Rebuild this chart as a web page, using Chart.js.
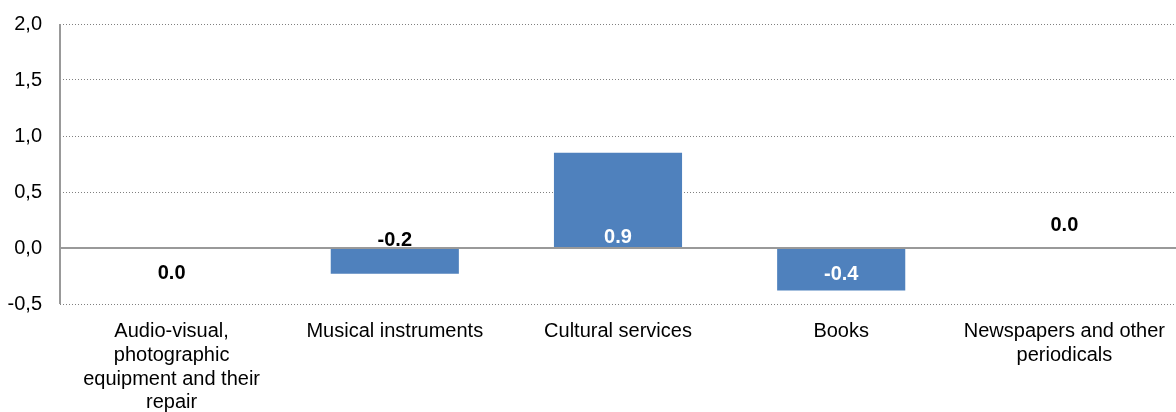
<!DOCTYPE html>
<html>
<head>
<meta charset="utf-8">
<script src="https://cdn.jsdelivr.net/npm/chart.js@4/dist/chart.umd.min.js"></script>
<style>
  html, body { margin: 0; padding: 0; background: #fff; }
  #wrap { width: 1176px; height: 412px; position: relative; }
</style>
</head>
<body>
<div id="wrap"><canvas id="chart"></canvas></div>
<script>
// Categories (pre-wrapped into lines) and their values
const categories = [
    ['Audio-visual,', 'photographic', 'equipment and their', 'repair'],
    ['Musical instruments'],
    ['Cultural services'],
    ['Books'],
    ['Newspapers and other', 'periodicals']
];
const values = [-0.01, -0.23, 0.85, -0.38, 0.0];

// Y axis ticks
const yTicks = [-0.5, 0.0, 0.5, 1.0, 1.5, 2.0];

// Vertical shift of each value label from the zero line, in px (down is positive)
const labelShift = [25, -8, -11, 26, -23];

const barColor = '#4F81BD';
const axisGrey = '#999999';
const fontFamily = '"Liberation Sans", Arial, sans-serif';

function formatValue(v) {
    const r = Math.round(v * 10) / 10;
    return (r === 0 ? 0 : r).toFixed(1);
}

// Draws the solid y axis and zero line plus the value labels
const overlayPlugin = {
    id: 'overlay',
    afterDatasetsDraw(chart) {
        const { ctx, chartArea, scales } = chart;
        const y0 = scales.y.getPixelForValue(0);
        ctx.save();
        ctx.strokeStyle = axisGrey;
        ctx.lineWidth = 2;
        ctx.beginPath();
        ctx.moveTo(chartArea.left, y0);
        ctx.lineTo(chartArea.right, y0);
        ctx.moveTo(chartArea.left, chartArea.top);
        ctx.lineTo(chartArea.left, chartArea.bottom);
        ctx.stroke();

        const meta = chart.getDatasetMeta(0);
        ctx.font = 'bold 20px ' + fontFamily;
        ctx.textAlign = 'center';
        ctx.textBaseline = 'middle';
        meta.data.forEach((bar, i) => {
            const ly = y0 + labelShift[i];
            const top = Math.min(bar.y, bar.base);
            const bottom = Math.max(bar.y, bar.base);
            const inside = ly > top && ly < bottom && bottom - top > 20;
            ctx.fillStyle = inside ? '#ffffff' : '#000000';
            ctx.fillText(formatValue(values[i]), bar.x, ly);
        });
        ctx.restore();
    }
};

new Chart(document.getElementById('chart'), {
    type: 'bar',
    data: {
        labels: categories,
        datasets: [{
            data: values,
            backgroundColor: barColor,
            borderWidth: 0,
            barPercentage: 0.574,
            categoryPercentage: 1.0
        }]
    },
    options: {
        responsive: true,
        maintainAspectRatio: false,
        animation: false,
        layout: { padding: { top: 24, right: 0, left: 0, bottom: 0 } },
        plugins: {
            legend: { display: false },
            tooltip: { enabled: false }
        },
        scales: {
            x: {
                grid: { display: false, drawTicks: false },
                border: { display: false },
                ticks: {
                    color: '#000',
                    padding: 16,
                    maxRotation: 0,
                    autoSkip: false,
                    font: { family: fontFamily, size: 20, lineHeight: 1.18 }
                },
                afterFit(scale) {
                    scale.height = 108;
                    scale.paddingLeft = 0;
                    scale.paddingRight = 0;
                }
            },
            y: {
                min: -0.5,
                max: 2.0,
                afterBuildTicks(scale) {
                    scale.ticks = yTicks.map(v => ({ value: v }));
                },
                grid: {
                    color: ctx => ctx.tick && ctx.tick.value === 0 ? 'rgba(0,0,0,0)' : '#808080',
                    lineWidth: 1,
                    drawTicks: false
                },
                border: { display: false, dash: [1, 2] },
                ticks: {
                    color: '#000',
                    padding: 18,
                    font: { family: fontFamily, size: 20 },
                    callback: v => v.toFixed(1).replace('.', ',')
                },
                afterFit(scale) {
                    scale.width = 60;
                    scale.paddingTop = 0;
                    scale.paddingBottom = 0;
                }
            }
        }
    },
    plugins: [overlayPlugin]
});
</script>
</body>
</html>
